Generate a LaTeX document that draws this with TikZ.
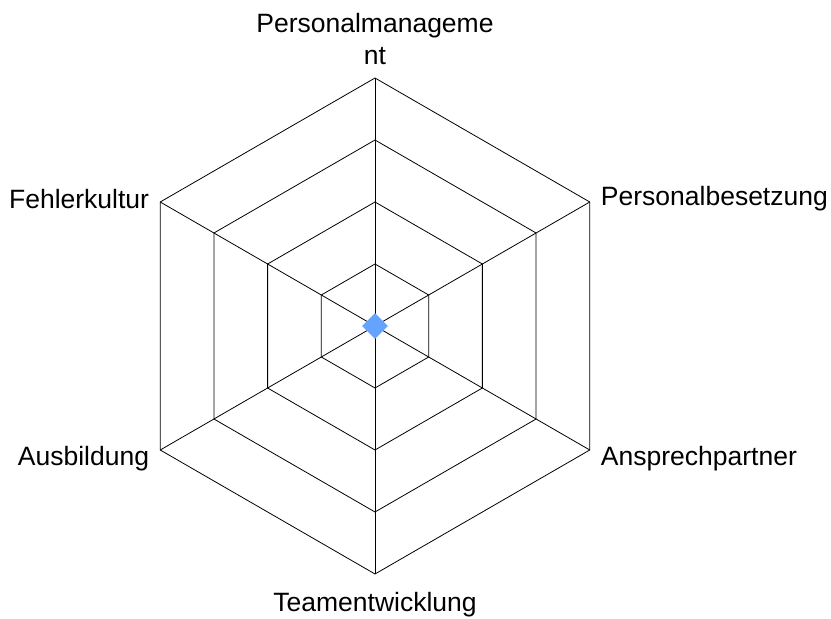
\documentclass[tikz,border=0pt]{standalone}
\usepackage{fontspec}
\setmainfont{Liberation Sans}
\usetikzlibrary{shapes.geometric,calc}
\definecolor{markblue}{RGB}{102,163,255}

\begin{document}
\begin{tikzpicture}[x=1pt,y=1pt,
  axislabel/.style={font=\fontsize{26.5}{32}\selectfont, inner sep=11pt},
  gridline/.style={black, line width=0.8pt}]
\useasboundingbox (0,0) rectangle (831,619);

\coordinate (C) at (375,293);
% axis ends
\foreach \a/\n in {90/pm,30/pb,-30/ap,-90/te,-150/au,150/fk}
  \coordinate (v\n) at ($(C)+(\a:248)$);

% rings
\foreach \r in {62,124,186,248}
  \draw[gridline, shift={(C)}] (90:\r) -- (30:\r) -- (-30:\r) -- (-90:\r) -- (-150:\r) -- (150:\r) -- cycle;

% spokes
\foreach \n in {pm,pb,ap,te,au,fk}
  \draw[gridline] (C) -- (v\n);

\node[diamond, fill=markblue, minimum size=26pt, inner sep=0pt] (mark) at (C) {};

\node[axislabel, anchor=south, align=center, yshift=2pt] (pm) at (vpm) {Personalmanageme\\nt};
\node[axislabel, anchor=west, yshift=3pt] (pb) at (vpb) {Personalbesetzung};
\node[axislabel, anchor=west, yshift=-9pt] (ap) at (vap) {Ansprechpartner};
\node[axislabel, anchor=north, inner sep=8pt, yshift=-10pt] (te) at (vte) {Teamentwicklung};
\node[axislabel, anchor=east, yshift=-9pt] (au) at (vau) {Ausbildung};
\node[axislabel, anchor=east, yshift=3pt] (fk) at (vfk) {Fehlerkultur};
\end{tikzpicture}
\end{document}
